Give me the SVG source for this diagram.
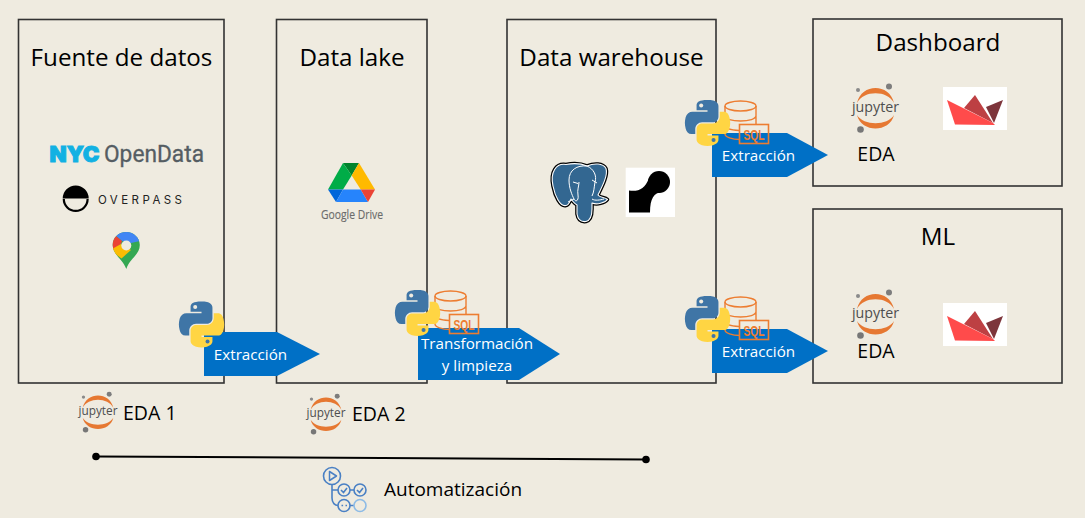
<svg xmlns="http://www.w3.org/2000/svg" width="1085" height="518" viewBox="0 0 1085 518">
<style>
text{font-family:"Open Sans","Noto Sans","Liberation Sans",sans-serif;fill:#000}
.box{fill:none;stroke:#333;stroke-width:1.6}
.title{font-size:24.2px;text-anchor:middle}
.eda{font-size:19.5px}
.flow{fill:#0070c6}
.flowtxt{font-size:15.2px;fill:#fff;text-anchor:middle}
.jt{font-size:14.5px;fill:#4e4e4e}
.sq{fill:none;stroke:#ed7d31;stroke-width:1.4}
.act{fill:none;stroke:#4a80c4;stroke-width:1.6}
</style>
<defs>
<clipPath id="pin"><path d="M126.3,232C118,232 112.7,238 112.7,245C112.7,255 122,258 126.3,269C130,258 139.8,255 139.8,245C139.8,238 134,232 126.3,232Z"/></clipPath>
<path id="pg" d="M566,164.500C556,163 550,172 553,186C555,196 560,207 566,205.500C569,205 570,201 571,199C574,203 575,204 577,205L577,214C578,220.500 582,222 586,221.500C590,220.500 592,216 592,209L592,203C597,205 605,203 607.500,199.500C605,197 600,198 598,195C603,185 608,175 606,168.500C603,163 594,163 587,166C580,163 574,163 566,164.500Z"/>
<g id="python">
<path fill="#3f75a6" d="M54.9 .1C50.3 .1 46 .5 42.1 1.2C30.7 3.2 28.6 7.4 28.6 15.2V25.5H55.6V28.9H18.5C10.6 28.9 3.8 33.6 1.6 42.6C-.9 53-1 59.5 1.6 70.3C3.5 78.4 8.2 84.1 16 84.1H25.3V71.7C25.3 62.8 33 54.9 42.1 54.9H69.1C76.6 54.9 82.6 48.7 82.6 41.2V15.2C82.6 7.8 76.4 2.3 69.1 1.1C64.4 .3 59.5 0 54.9 .1Z"/>
<path fill="#ffd543" d="M85.8 28.9V41C85.8 50.4 77.8 58.3 69.1 58.3H42.1C34.7 58.3 28.6 64.6 28.6 72V97.8C28.6 105.2 35 109.5 42.1 111.6C50.7 114.1 58.9 114.5 69.1 111.6C75.9 109.6 82.6 105.7 82.6 97.8V87.5H55.6V84.1H96.1C104 84.1 106.9 78.6 109.6 70.3C112.4 61.8 112.3 53.6 109.6 42.6C107.7 34.7 103.9 28.9 96.1 28.9Z"/>
<circle cx="40" cy="13.5" r="5" fill="#efebe0"/><circle cx="70.5" cy="99" r="5" fill="#3f75a6"/>
</g>
<g id="sqlicon">
<ellipse class="sq" cx="16.5" cy="6" rx="15.5" ry="5"/>
<path class="sq" d="M1,6V34C1,37 8,39.500 16,39.500M32,6V24M1,15.500C1,19 8,21 16.500,21S32,19 32,15.500M1,25C1,28 7,30 15,30.500"/>
<rect x="15.500" y="24.500" width="29" height="19" fill="none" stroke="#ed7d31" stroke-width="1.600"/>
<text x="30" y="40" text-anchor="middle" textLength="21" lengthAdjust="spacingAndGlyphs" style="font-family:'Liberation Sans',sans-serif;font-size:15.500px;font-weight:700;fill:#ed7d31">SQL</text>
</g>
<g id="jupyter">
<path fill="#e67832" d="M-18.500,-5C-14,-25 14,-25 18.500,-5C12,-18 -12,-18 -18.500,-5Z"/>
<path fill="#e67832" d="M-18.500,7C-14,25 14,25 18.500,7C12,18 -12,18 -18.500,7Z"/>
<circle cx="-17.500" cy="-18" r="2" fill="#8a8a8a"/><circle cx="13.500" cy="-21.500" r="3" fill="#7d7d7d"/><circle cx="-15" cy="21.500" r="3.300" fill="#777"/>
<text class="jt" x="0" y="4" text-anchor="middle" textLength="47" lengthAdjust="spacingAndGlyphs">jupyter</text>
</g>
<g id="streamlit">
<rect x="0" y="0" width="64" height="43" fill="#fff"/>
<path fill="#7d353b" d="M60,13 43,20 51,36Z"/>
<path fill="#bd4043" d="M32,8 21,21 50,36Z"/>
<path fill="#ff4b4b" d="M4,13 50,36 52,38 12,37.500Z"/>
</g>
<g id="elephant">
<use href="#pg" fill="#000" stroke="#000" stroke-width="3.600" stroke-linejoin="round"/>
<use href="#pg" fill="#336791" stroke="#fff" stroke-width="1.100" stroke-linejoin="round"/>
<path fill="none" stroke="#fff" stroke-width="1" d="M587,166C577,165 569,170 569,180C569,188 572,195 574,199C576,203 579,200 578,195C577,190 579,186 579,182M587,166C594,169 597,176 595,182C594,188 594,192 592,196M573,182 578,183.500M592,180 597,183M574,199 568,202M592,199C595,201 600,200 604,199"/>
</g>
</defs>
<rect width="1085" height="518" fill="#efebe0"/>

<g id="fuente-de-datos">
<rect class="box" x="18.500" y="19.500" width="205.500" height="363.500"/>
<text class="title" x="121.500" y="66">Fuente de datos</text>
<text x="49.500" y="161.500" textLength="50" lengthAdjust="spacingAndGlyphs" style="font-family:'Inter','Liberation Sans',sans-serif;font-size:22px;font-weight:900;fill:#12b1e3;stroke:#12b1e3;stroke-width:1">NYC</text>
<text x="104" y="162" textLength="100" lengthAdjust="spacingAndGlyphs" style="font-family:Roboto,'Open Sans',sans-serif;font-size:23px;fill:#555d63;stroke:#555d63;stroke-width:.3">OpenData</text>
<path fill="#000" d="M62.700,198.500A13,13 0 0 1 88.700,198.500ZM62.700,199A13,13 0 0 0 88.700,199H86.500A10.800,10.800 0 0 1 64.900,199Z"/>
<text x="98" y="204" textLength="84" style="font-family:Inter,'Open Sans',sans-serif;font-size:11.500px;fill:#222">OVERPASS</text>
<g clip-path="url(#pin)">
<rect x="110" y="230" width="32" height="42" fill="#34a853"/>
<path fill="#4285f4" d="M116,236 118,228H145V240L131,243 122,241Z"/>
<path fill="#ea4335" d="M110,252V235L116,236 122,241 121,244Z"/>
<path fill="#fbbc04" d="M110,250 121,244 131,250 121.500,258.500Z"/>
</g>
<circle cx="126.300" cy="245.500" r="5" fill="#efebe0"/>
</g>

<g id="data-lake">
<rect class="box" x="276.500" y="19.500" width="150.500" height="363.500"/>
<text class="title" x="352" y="66">Data lake</text>
<path fill="#00832d" d="M343,163H359L351.700,175.500Z"/>
<path fill="#00ac47" d="M343,163 351.700,175.500 343,189.500H328Z"/>
<path fill="#ffba00" d="M359,163 375,189.500H360.700L351.700,175.500Z"/>
<path fill="#0066da" d="M328,189.500H343L336,202Z"/>
<path fill="#2684fc" d="M343,189.500H360.700L368,202H336Z"/>
<path fill="#ea4335" d="M360.700,189.500H375L368,202Z"/>
<text x="321" y="218.500" textLength="62" lengthAdjust="spacingAndGlyphs" style="font-size:12px;fill:#6b6b6b;stroke:#6b6b6b;stroke-width:.15">Google Drive</text>
</g>

<g id="data-warehouse">
<rect class="box" x="507" y="19.500" width="209" height="363.500"/>
<text class="title" x="611.500" y="66">Data warehouse</text>
<use href="#elephant"/>
<rect x="625.700" y="167.700" width="49.300" height="49.300" fill="#fff"/>
<circle cx="659" cy="182" r="11" fill="#000"/>
<path fill="#000" d="M629,190.500C638,192 645,189 649,178L662,192C654,193 650,198 650,212.500H629Z"/>
</g>

<g id="dashboard">
<rect class="box" x="813" y="19" width="249" height="167"/>
<text class="title" x="938" y="51">Dashboard</text>
<use href="#jupyter" transform="translate(875.500,108)"/>
<text class="eda" x="876" y="161" text-anchor="middle">EDA</text>
<use href="#streamlit" transform="translate(943,87)"/>
</g>

<g id="ml">
<rect class="box" x="813" y="209" width="249" height="174"/>
<text class="title" x="938" y="245">ML</text>
<use href="#jupyter" transform="translate(875.500,314)"/>
<text class="eda" x="876" y="358" text-anchor="middle">EDA</text>
<use href="#streamlit" transform="translate(943,303)"/>
</g>

<g id="eda-1">
<use href="#jupyter" transform="translate(98,412) scale(.83)"/>
<text class="eda" x="123" y="420">EDA 1</text>
</g>
<g id="eda-2">
<use href="#jupyter" transform="translate(326,414) scale(.83)"/>
<text class="eda" x="352" y="421">EDA 2</text>
</g>

<g id="automatizacion">
<circle class="act" cx="332" cy="476" r="8.500"/>
<path fill="none" stroke="#4a80c4" stroke-width="1.500" stroke-linejoin="round" d="M329.500,471.500V480.500L336.500,476Z"/>
<path class="act" d="M332,484.500V498C332,503 335,505.500 338,505.500M332,490H338M350,490H354M350,505.500H354"/>
<circle class="act" cx="344" cy="490" r="6"/><circle class="act" cx="360" cy="490" r="6"/>
<circle class="act" cx="344" cy="505.500" r="6"/><circle cx="360" cy="505.500" r="6" fill="none" stroke="#8dbbe6" stroke-width="1.600"/>
<path class="act" d="M341,490 343.500,492.500 347,488M357,490 359.500,492.500 363,488"/>
<path class="act" stroke-dasharray="1.600 2.400" d="M341.500,505.500H347"/>
<text x="384" y="496" style="font-size:19px">Automatización</text>
</g>

<g id="connectors">
<g id="automation-line">
<line x1="96" y1="456.500" x2="646" y2="459.500" stroke="#000" stroke-width="2"/>
<circle cx="96" cy="456.500" r="3.800" fill="#000"/><circle cx="646" cy="459.500" r="3.800" fill="#000"/>
</g>
<g id="flow-extraccion-1">
<path class="flow" d="M204,332H277L320,354 277,376H204Z"/>
<use href="#python" transform="translate(179,301.500) scale(.405)"/>
<text class="flowtxt" x="250.500" y="360">Extracción</text>
</g>
<g id="flow-transformacion">
<path class="flow" d="M418,328H519L560,354 519,380H418Z"/>
<use href="#sqlicon" transform="translate(434,290)"/>
<use href="#python" transform="translate(395,290) scale(.405)"/>
<text class="flowtxt" x="477" y="349">Transformación</text>
<text class="flowtxt" x="477" y="371">y limpieza</text>
</g>
<g id="flow-extraccion-2">
<path class="flow" d="M712,133H787L828,155 787,177H712Z"/>
<use href="#sqlicon" transform="translate(724,100)"/>
<use href="#python" transform="translate(685,100) scale(.405)"/>
<text class="flowtxt" x="758.500" y="161">Extracción</text>
</g>
<g id="flow-extraccion-3">
<path class="flow" d="M712,329H787L828,351 787,373H712Z"/>
<use href="#sqlicon" transform="translate(724,296)"/>
<use href="#python" transform="translate(685,296) scale(.405)"/>
<text class="flowtxt" x="758.500" y="357">Extracción</text>
</g>
</g>
</svg>
